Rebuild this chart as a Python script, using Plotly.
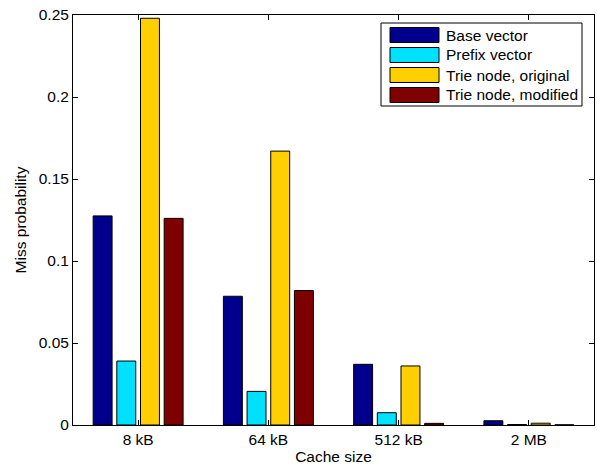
import plotly.graph_objects as go

# Miss probability per cache size for each data structure
cache_sizes = ["8 kB", "64 kB", "512 kB", "2 MB"]
series_names = ["Base vector", "Prefix vector", "Trie node, original", "Trie node, modified"]
base_vector = [0.1275, 0.0785, 0.0370, 0.0026]
prefix_vector = [0.0390, 0.0205, 0.0075, 0.0003]
trie_original = [0.2480, 0.1670, 0.0360, 0.0011]
trie_modified = [0.1260, 0.0820, 0.0010, 0.0001]
series_colors = ["#00008c", "#00e0ff", "#ffcf00", "#7f0000"]
y_ticks = [0, 0.05, 0.1, 0.15, 0.2, 0.25]
y_tick_text = ["0", "0.05", "0.1", "0.15", "0.2", "0.25"]

W, H = 597, 466
ML, MR, MT, MB = 73, 3, 15, 41
PW, PH = W - ML - MR, H - MT - MB

FONT = "Liberation Sans, Arial, Helvetica, sans-serif"
FS = 15.5

fig = go.Figure()
for name, vals, col in zip(series_names,
                           [base_vector, prefix_vector, trie_original, trie_modified],
                           series_colors):
    fig.add_trace(go.Bar(x=cache_sizes, y=vals, name=name,
                         marker=dict(color=col, line=dict(color="#000000", width=1)),
                         showlegend=False))

# hand-built legend box with wide colour swatches
def px_x(p):
    return (p - ML) / PW

def px_y(p):
    return (H - MB - p) / PH

shapes = [dict(type="rect", xref="paper", yref="paper",
               x0=px_x(381), x1=px_x(582), y0=px_y(106), y1=px_y(23),
               line=dict(color="#000000", width=1), fillcolor="#ffffff", layer="above")]
annotations = []
for i, (name, col) in enumerate(zip(series_names, series_colors)):
    top = 27.5 + 20 * i
    shapes.append(dict(type="rect", xref="paper", yref="paper",
                       x0=px_x(390), x1=px_x(439), y0=px_y(top + 15), y1=px_y(top),
                       line=dict(color="#000000", width=1), fillcolor=col, layer="above"))
    annotations.append(dict(xref="paper", yref="paper", x=px_x(444), y=px_y(top + 7.5),
                            text=name, showarrow=False, xanchor="left", yanchor="middle",
                            font=dict(family=FONT, size=FS, color="#000000")))

fig.update_layout(
    width=W, height=H,
    margin=dict(l=ML, r=MR, t=MT, b=MB, pad=0),
    paper_bgcolor="#ffffff", plot_bgcolor="#ffffff",
    barmode="group", bargap=0.273, bargroupgap=0.2,
    font=dict(family=FONT, size=FS, color="#000000"),
    shapes=shapes, annotations=annotations,
    xaxis=dict(type="category", range=[-0.5, 3.5], showline=True, linecolor="#000000",
               linewidth=1, mirror="ticks", ticks="inside", ticklen=5, tickcolor="#000000",
               showgrid=False, zeroline=False,
               title=dict(text="Cache size", standoff=4, font=dict(size=FS))),
    yaxis=dict(range=[0, 0.25], tickvals=y_ticks, ticktext=y_tick_text, showline=True,
               linecolor="#000000", linewidth=1, mirror="ticks", ticks="inside", ticklen=5,
               tickcolor="#000000", showgrid=False, zeroline=False,
               title=dict(text="Miss probability", standoff=8, font=dict(size=FS))),
)

fig.write_html("out.html")
